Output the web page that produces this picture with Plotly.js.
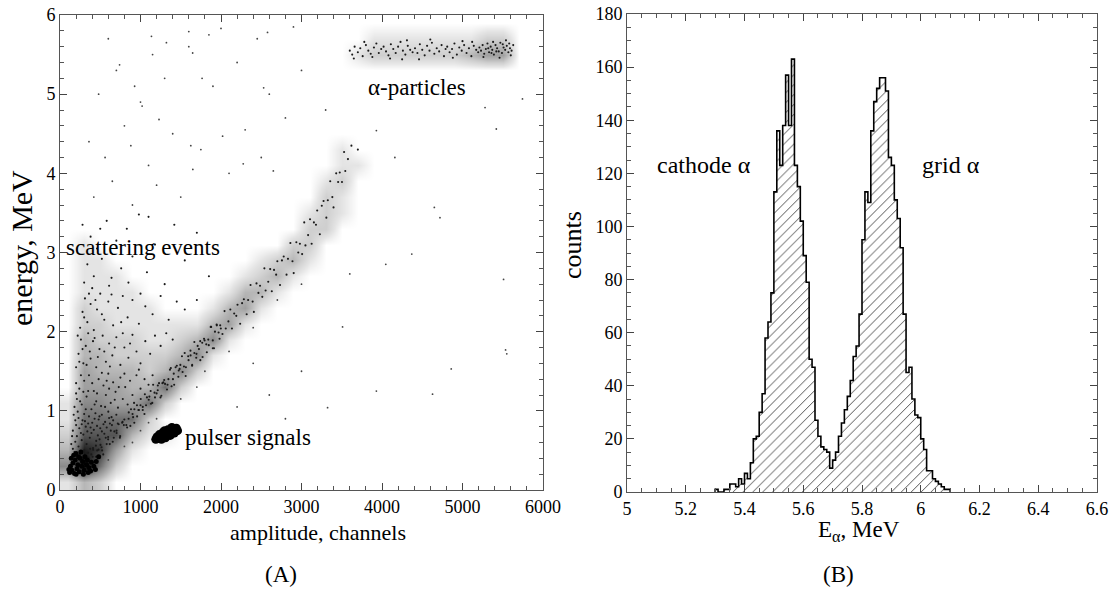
<!DOCTYPE html>
<html><head><meta charset="utf-8">
<script src="https://cdn.plot.ly/plotly-3.0.1.min.js"></script>
<style>html,body{margin:0;padding:0;background:#fff}</style>
</head><body><div id="chart" style="width:1113px;height:601px"></div>
<script>
// ---------- Panel A : energy vs amplitude (events) ----------
const bandPts = [
[300,0.39],[322,0.28],[357,0.41],[375,0.52],[405,0.42],[431,0.36],[446,0.56],[479,0.51],[503,0.57],[523,0.50],
[551,0.71],[580,0.58],[598,0.64],[631,0.75],[655,0.61],[675,0.74],[703,0.72],[729,0.83],[744,0.66],[777,0.86],
[799,0.89],[834,0.79],[852,0.90],[882,1.02],[908,0.92],[923,0.85],[956,1.07],[980,1.01],[1000,1.07],[1028,1.01],
[1054,1.21],[1069,1.07],[1102,1.14],[1126,1.25],[1146,1.10],[1174,1.23],[1200,1.22],[1215,1.32],[1248,1.17],[1272,1.35],
[1294,1.39],[1329,1.27],[1347,1.40],[1377,1.54],[1403,1.40],[1418,1.33],[1451,1.57],[1475,1.51],[1495,1.58],[1523,1.49],
[1549,1.73],[1564,1.55],[1597,1.64],[1621,1.76],[1641,1.57],[1669,1.73],[1695,1.72],[1710,1.82],[1743,1.64],[1767,1.86],
[1789,1.91],[1824,1.74],[1842,1.90],[1872,2.06],[1898,1.89],[1913,1.79],[1946,2.09],[1970,1.99],[1990,2.08],[2018,1.97],
[2044,2.26],[2059,2.04],[2092,2.13],[2116,2.28],[2136,2.04],[2164,2.23],[2190,2.20],[2205,2.34],[2238,2.10],[2262,2.36],
[2284,2.41],[2319,2.22],[2337,2.40],[2367,2.59],[2393,2.38],[2408,2.25],[2441,2.61],[2465,2.49],[2485,2.58],[2513,2.44],
[2539,2.80],[2554,2.52],[2587,2.63],[2611,2.79],[2631,2.51],[2659,2.78],[2685,2.72],[2700,2.89],[2733,2.59],[2757,2.90],
[2779,2.95],[2814,2.72],[2832,2.92],[2862,3.12],[2888,2.89],[2903,2.74],[2936,3.13],[2960,3.00],[2980,3.11],[3008,2.98],
[3034,3.38],[3049,3.09],[3082,3.22],[3106,3.42],[3126,3.11],[3154,3.38],[3180,3.35],[3195,3.53],[3228,3.23],[3252,3.59],
[3274,3.65],[3309,3.44],[3327,3.66],[3357,3.90],[3383,3.70],[3398,3.57],[3431,4.00],[3455,3.89],[3475,4.01],[3503,3.89],
[3529,4.27],[3544,4.03],[3577,4.18],[3620,4.35],[3700,4.30],
[312,0.31],[342,0.47],[362,0.30],[389,0.45],[412,0.51],[446,0.42],[462,0.50],[491,0.64],[516,0.54],[537,0.45],
[568,0.66],[598,0.67],[618,0.58],[645,0.82],[668,0.66],[702,0.75],[718,0.84],[747,0.68],[772,0.85],[793,0.82],
[824,0.82],[854,0.98],[874,0.81],[901,0.96],[924,1.02],[958,0.93],[974,1.01],[1003,1.15],[1028,1.05],[1049,0.96],
[1080,1.17],[1110,1.18],[1130,1.09],[1157,1.33],[1180,1.17],[1214,1.26],[1230,1.35],[1259,1.19],[1284,1.36],[1305,1.34],
[1336,1.33],[1366,1.52],[1386,1.31],[1413,1.47],[1436,1.55],[1470,1.43],[1486,1.53],[1515,1.69],[1540,1.56],[1561,1.44],
[1592,1.69],[1622,1.70],[1642,1.58],[1669,1.87],[1692,1.67],[1726,1.78],[1742,1.88],[1771,1.68],[1796,1.89],[1817,1.84],
[1848,1.83],[1878,2.06],[1898,1.79],[1925,2.00],[1948,2.08],[1982,1.91],[1998,2.04]
];
const cloudPts = [
[160,0.52],[190,0.61],[230,0.55],[270,0.63],[300,0.50],[330,0.58],[370,0.66],[410,0.53],[450,0.62],[180,0.48],[250,0.45],[350,0.47],[210,0.68],[290,0.70],[390,0.72],[470,0.69],[520,0.74],[140,0.58],
[160,0.75],[200,0.82],[240,0.78],[280,0.88],[320,0.80],[360,0.93],[400,0.85],[440,0.97],[480,0.89],[520,0.95],[560,0.86],[600,0.99],[640,0.92],[170,0.95],[220,0.99],[260,0.72],[300,0.96],[340,0.74],[380,0.79],[420,0.76],[460,0.81],[500,0.78],[540,0.83],[580,0.79],[620,0.84],[660,0.88],[700,0.95],[190,0.88],[230,0.91],[270,0.83],[310,0.87],[350,0.84],[430,0.90],[490,0.93],[610,0.91],[150,0.68],
[180,1.05],[210,1.15],[240,1.28],[270,1.08],[300,1.38],[330,1.18],[360,1.45],[390,1.02],[420,1.25],[450,1.12],[480,1.40],[510,1.06],[540,1.32],[570,1.20],[600,1.47],[630,1.10],[660,1.36],[690,1.24],[720,1.04],[750,1.42],[780,1.15],[810,1.30],[840,1.08],[870,1.38],[900,1.20],[950,1.45],[1000,1.28],[1050,1.40],[1100,1.33],[1150,1.45],[200,1.35],[260,1.45],[320,1.02],[350,1.25],[400,1.35],[460,1.22],[520,1.48],[560,1.05],[610,1.28],[680,1.14],[730,1.30],[200,1.22],[250,1.12],[290,1.24],[430,1.08],[580,1.38],[800,1.47],[920,1.10],
[200,1.55],[230,1.72],[260,1.90],[290,1.60],[320,1.82],[350,1.98],[380,1.66],[410,1.88],[450,1.55],[490,1.78],[530,1.95],[570,1.62],[610,1.85],[650,1.70],[700,1.93],[750,1.58],[800,1.80],[850,1.67],[900,1.96],[950,1.75],[1000,1.60],[1060,1.88],[1120,1.72],[1180,1.95],[1250,1.82],[1320,1.98],[1400,1.90],[240,1.62],[280,1.78],[330,1.58],[370,1.75],[430,1.92],[470,1.68],[550,1.75],[620,1.56],[680,1.80],[780,1.98],[870,1.85],[980,1.52],[220,1.95],
[250,2.05],[280,2.25],[310,2.42],[340,2.12],[380,2.35],[420,2.02],[460,2.28],[500,2.48],[550,2.15],[600,2.38],[660,2.08],[720,2.30],[780,2.45],[840,2.18],[900,2.40],[980,2.10],[1060,2.32],[1150,2.22],[1250,2.45],[1350,2.15],[1450,2.38],[1550,2.28],[300,2.18],[360,2.48],[440,2.40],[520,2.22],[640,2.47],[760,2.12],[1000,2.48],[1700,2.40],
[300,2.62],[340,2.85],[380,3.20],[420,2.70],[460,3.05],[520,2.92],[580,3.40],[640,2.68],[700,3.15],[760,2.80],[830,3.30],[900,2.95],[980,3.48],[1080,2.75],[1180,3.10],[1300,2.60],[1420,3.35],[1550,2.90],[1700,3.25],[1850,2.70],[400,2.55],[500,3.30],[610,2.58],[850,2.62],[280,3.35],[1100,3.45]
];
const sparsePts = [
[420,3.7],[650,3.9],[900,3.6],[1200,3.85],[1500,3.7],[360,4.4],[560,4.2],[800,4.6],[1100,4.1],[1400,4.5],[1750,4.3],[2100,4.0],[2500,4.2],[2800,4.7],
[480,5.0],[700,5.3],[1000,4.9],[1300,5.2],[1600,5.6],[1900,5.1],[2200,5.4],[2600,5.0],[3000,5.3],[3300,4.8],[600,5.7],[1150,5.5],[1850,5.75],[2450,5.7],[2900,5.85],[880,4.35],[1650,4.05],[2300,4.55],
[1136,5.73],[1322,5.65],[1648,5.52],[1600,5.79],[2000,5.83],[2578,5.78],[740,5.37],[927,5.1],[1765,5.2],[2530,5.08],[1020,4.85],[1230,4.68],[2276,4.12],[2650,4.03],[1625,4.35],[2020,4.47],
[3930,4.54],[4160,4.2],[5280,4.83],[5420,4.56],[5745,4.94],[4650,3.57],[4370,2.98],[5510,2.66],[3600,2.73],[4047,2.85],[4720,3.44],
[3324,1.04],[3510,2.06],[3930,1.25],[4628,1.21],[4860,1.53],[5535,1.77],[5550,1.72],[2600,1.2],[2200,1.05],[3000,1.5],[2800,0.9],[2400,1.6],
[1800,1.5],[2100,1.75],[1500,1.15],[1200,0.9],[1000,0.75],[800,0.55],[600,0.38],[2400,2.05],[2700,2.4],[3000,2.6],[1700,1.3],[900,0.6],[1100,0.85]
];
const alphaPts = [
[3600,5.55],[3630,5.50],[3660,5.60],[3700,5.53],[3730,5.58],[3760,5.48],[3800,5.62],[3830,5.55],[3860,5.51],[3900,5.59],[3930,5.64],[3960,5.52],[3990,5.57],[3650,5.45],[3780,5.66],[3880,5.47],
[4020,5.60],[4050,5.54],[4080,5.49],[4110,5.63],[4140,5.57],[4170,5.52],[4200,5.60],[4230,5.66],[4260,5.55],[4290,5.50],[4320,5.61],[4350,5.56],[4380,5.53],[4100,5.45],[4250,5.44],[4310,5.68],
[4410,5.58],[4440,5.52],[4470,5.63],[4500,5.56],[4530,5.49],[4560,5.61],[4590,5.55],[4620,5.65],[4650,5.51],[4680,5.58],[4710,5.54],[4740,5.62],[4770,5.48],[4790,5.57],[4460,5.44],[4600,5.69],
[4810,5.60],[4840,5.53],[4870,5.57],[4900,5.64],[4930,5.50],[4960,5.59],[4990,5.55],[5020,5.62],[5050,5.52],[5080,5.58],[5110,5.48],[5140,5.61],[5170,5.56],[5195,5.53],[4880,5.46],[5000,5.67],[5120,5.66],
[5210,5.59],[5230,5.55],[5250,5.62],[5270,5.51],[5290,5.57],[5310,5.64],[5330,5.53],[5350,5.60],[5370,5.56],[5390,5.50],[5410,5.62],[5430,5.58],[5450,5.54],[5470,5.65],[5490,5.52],[5510,5.59],[5530,5.56],[5550,5.61],[5570,5.53],[5590,5.58],[5610,5.55],[5630,5.62],[5260,5.47],[5380,5.66],[5460,5.46],[5540,5.68],[5600,5.49],[5500,5.63],[5320,5.58],[5420,5.54],[5580,5.64],[5360,5.52]
];
const cornerPts = [
[120,0.22],[150,0.25],[180,0.21],[210,0.27],[240,0.23],[270,0.30],[300,0.25],[330,0.32],[360,0.28],[390,0.35],[420,0.30],[130,0.30],[160,0.34],[190,0.38],[220,0.32],[250,0.40],[280,0.36],[310,0.42],[340,0.38],[140,0.40],[170,0.44],[200,0.46],[230,0.42],[260,0.48],[450,0.36],[480,0.42],[110,0.26],[380,0.24],[440,0.26],[350,0.22],[290,0.20],[200,0.20]
];
const pulserPts = [
[1190,0.64],[1215,0.65],[1240,0.66],[1270,0.68],[1300,0.70],[1330,0.72],[1360,0.74],[1390,0.76],[1420,0.77],[1445,0.78],
[1235,0.70],[1280,0.73],[1340,0.76],[1390,0.79],[1260,0.64],[1310,0.66],[1370,0.69],[1420,0.72],[1205,0.67],[1460,0.75],
[1250,0.69],[1350,0.73],[1320,0.68],[1285,0.66],[1400,0.74],[1300,0.75]
];

// Relative event density, cells of 200 channels x 0.2 MeV
// (row 0 = 0-0.2 MeV, column 0 = 0-200 channels)
const densCellAmp = 200, densCellE = 0.2;
const densityRows = [
[1,3,2,0,0,0,0,0,0,0,0,0,0,0,0,0,0,0,0,0,0,0,0,0,0,0,0,0,0,0],
[5,10,6,2,0,0,0,0,0,0,0,0,0,0,0,0,0,0,0,0,0,0,0,0,0,0,0,0,0,0],
[3,9,8,4,1,0,0,0,0,0,0,0,0,0,0,0,0,0,0,0,0,0,0,0,0,0,0,0,0,0],
[2,7,7,7,3,1,1,0,0,0,0,0,0,0,0,0,0,0,0,0,0,0,0,0,0,0,0,0,0,0],
[1,6,6,6,6,2,0,0,0,0,0,0,0,0,0,0,0,0,0,0,0,0,0,0,0,0,0,0,0,0],
[1,5,5,4,4,6,2,0,0,0,0,0,0,0,0,0,0,0,0,0,0,0,0,0,0,0,0,0,0,0],
[0,4,4,4,3,3,6,2,0,0,0,0,0,0,0,0,0,0,0,0,0,0,0,0,0,0,0,0,0,0],
[0,4,3,3,3,2,3,5,2,0,0,0,0,0,0,0,0,0,0,0,0,0,0,0,0,0,0,0,0,0],
[0,3,3,2,2,2,2,3,5,1,0,0,0,0,0,0,0,0,0,0,0,0,0,0,0,0,0,0,0,0],
[0,3,2,2,2,1,1,2,3,5,1,0,0,0,0,0,0,0,0,0,0,0,0,0,0,0,0,0,0,0],
[0,2,2,1,1,1,1,1,1,3,4,1,0,0,0,0,0,0,0,0,0,0,0,0,0,0,0,0,0,0],
[0,2,1,1,1,1,0,0,0,1,3,4,1,0,0,0,0,0,0,0,0,0,0,0,0,0,0,0,0,0],
[0,1,1,1,1,0,0,0,0,0,1,3,3,1,0,0,0,0,0,0,0,0,0,0,0,0,0,0,0,0],
[0,1,1,1,0,0,0,0,0,0,0,1,2,3,1,0,0,0,0,0,0,0,0,0,0,0,0,0,0,0],
[0,1,1,0,0,0,0,0,0,0,0,0,1,2,3,1,0,0,0,0,0,0,0,0,0,0,0,0,0,0],
[0,1,0,0,0,0,0,0,0,0,0,0,0,0,2,2,0,0,0,0,0,0,0,0,0,0,0,0,0,0],
[0,0,0,0,0,0,0,0,0,0,0,0,0,0,0,2,2,0,0,0,0,0,0,0,0,0,0,0,0,0],
[0,0,0,0,0,0,0,0,0,0,0,0,0,0,0,1,2,1,0,0,0,0,0,0,0,0,0,0,0,0],
[0,0,0,0,0,0,0,0,0,0,0,0,0,0,0,0,2,1,0,0,0,0,0,0,0,0,0,0,0,0],
[0,0,0,0,0,0,0,0,0,0,0,0,0,0,0,0,1,2,0,0,0,0,0,0,0,0,0,0,0,0],
[0,0,0,0,0,0,0,0,0,0,0,0,0,0,0,0,0,1,1,0,0,0,0,0,0,0,0,0,0,0],
[0,0,0,0,0,0,0,0,0,0,0,0,0,0,0,0,0,1,0,0,0,0,0,0,0,0,0,0,0,0],
[0,0,0,0,0,0,0,0,0,0,0,0,0,0,0,0,0,0,0,0,0,0,0,0,0,0,0,0,0,0],
[0,0,0,0,0,0,0,0,0,0,0,0,0,0,0,0,0,0,0,0,0,0,0,0,0,0,0,0,0,0],
[0,0,0,0,0,0,0,0,0,0,0,0,0,0,0,0,0,0,0,0,0,0,0,0,0,0,0,0,0,0],
[0,0,0,0,0,0,0,0,0,0,0,0,0,0,0,0,0,0,0,0,0,0,0,0,0,0,0,0,0,0],
[0,0,0,0,0,0,0,0,0,0,0,0,0,0,0,0,0,0,0,0,0,0,0,0,0,0,0,0,0,0],
[0,0,0,0,0,0,0,0,0,0,0,0,0,0,0,0,0,0,1,2,2,2,2,2,2,3,4,4,0,0],
[0,0,0,0,0,0,0,0,0,0,0,0,0,0,0,0,0,0,0,1,1,1,1,1,1,1,2,2,0,0],
[0,0,0,0,0,0,0,0,0,0,0,0,0,0,0,0,0,0,0,0,0,0,0,0,0,0,0,0,0,0]
];

// ---------- Panel B : alpha energy histogram ----------
const binStart = 5.30;   // MeV, lower edge of first bin
const binWidth = 0.01;   // MeV
const counts = [1,0,0,1,1,3,3,2,5,3,7,5,11,20,21,30,37,58,64,75,113,136,123,138,157,138,163,123,115,102,89,79,50,47,27,21,17,16,15,9,12,15,21,26,31,36,42,51,55,67,95,113,109,136,147,152,156,156,151,126,123,110,103,92,67,45,47,35,29,28,20,16,8,8,5,4,3,2,1,1];

const xs = p => p.map(d => d[0]);
const ys = p => p.map(d => d[1]);

const densX = densityRows[0].map((_, c) => (c + 0.5) * densCellAmp);
const densY = densityRows.map((_, r) => +((r + 0.5) * densCellE).toFixed(2));

const edges = counts.map((c, i) => +(binStart + i * binWidth).toFixed(3));
const histX = [binStart].concat(edges, [+(binStart + counts.length * binWidth).toFixed(3)]);
const histY = [0].concat(counts, [0]);

const serif = "Liberation Serif, Times New Roman, Times, serif";
const dotMarker = {size: 2.1, color: '#1a1a1a', line: {width: 0}};

const traces = [
  {type:'heatmap', x: densX, y: densY, z: densityRows, zmin:0, zmax:10, zsmooth:'best', showscale:false,
   colorscale:[[0,'#ffffff'],[0.1,'#e4e4e4'],[0.2,'#cfcfcf'],[0.3,'#b6b6b6'],[0.5,'#8a8a8a'],[0.7,'#555555'],[0.9,'#1e1e1e'],[1,'#000000']],
   xaxis:'x', yaxis:'y', hoverinfo:'skip'},
  {type:'scatter', mode:'markers', x: xs(cloudPts), y: ys(cloudPts), marker: dotMarker, xaxis:'x', yaxis:'y', hoverinfo:'skip'},
  {type:'scatter', mode:'markers', x: xs(bandPts), y: ys(bandPts), marker: dotMarker, xaxis:'x', yaxis:'y', hoverinfo:'skip'},
  {type:'scatter', mode:'markers', x: xs(sparsePts), y: ys(sparsePts), marker: {size: 1.8, color: '#444', line:{width:0}}, xaxis:'x', yaxis:'y', hoverinfo:'skip'},
  {type:'scatter', mode:'markers', x: xs(alphaPts), y: ys(alphaPts), marker: dotMarker, xaxis:'x', yaxis:'y', hoverinfo:'skip'},
  {type:'scatter', mode:'markers', x: xs(cornerPts), y: ys(cornerPts), marker: {size: 5, color: '#000', line:{width:0}}, xaxis:'x', yaxis:'y', hoverinfo:'skip'},
  {type:'scatter', mode:'markers', x: xs(pulserPts), y: ys(pulserPts), marker: {size: 9, color: '#000', line:{width:0}}, xaxis:'x', yaxis:'y', hoverinfo:'skip'},
  {type:'scatter', mode:'lines', x: histX, y: histY, line: {shape:'hv', color:'#000', width:1.6},
   fill:'tozeroy', fillcolor:'rgba(0,0,0,0)',
   fillpattern: {shape:'/', fgcolor:'#444', bgcolor:'#fff', size:7, solidity:0.13},
   xaxis:'x2', yaxis:'y2', hoverinfo:'skip'}
];

const axBase = {
  showline:true, linecolor:'#555', linewidth:1, mirror:'allticks',
  ticks:'inside', ticklen:7, tickwidth:1, tickcolor:'#444',
  showgrid:false, zeroline:false,
  tickfont:{family:serif, size:18, color:'#000'},
  minor:{ticks:'inside', ticklen:4, tickcolor:'#555', showgrid:false}
};

const layout = {
  width:1113, height:601,
  margin:{l:0, r:0, t:0, b:0},
  paper_bgcolor:'#fff', plot_bgcolor:'#fff',
  showlegend:false,
  font:{family:serif, color:'#000'},
  xaxis: Object.assign({}, axBase, {domain:[60/1113, 543/1113], range:[0,6000], dtick:1000, tick0:0,
    minor:Object.assign({}, axBase.minor, {dtick:200}), anchor:'y'}),
  yaxis: Object.assign({}, axBase, {domain:[(601-490)/601, (601-15)/601], range:[0,6], dtick:1, tick0:0,
    minor:Object.assign({}, axBase.minor, {dtick:0.2}), anchor:'x'}),
  xaxis2: Object.assign({}, axBase, {domain:[627/1113, 1097/1113], range:[5,6.6], dtick:0.2, tick0:5,
    minor:Object.assign({}, axBase.minor, {dtick:0.05}), anchor:'y2'}),
  yaxis2: Object.assign({}, axBase, {domain:[(601-492)/601, (601-14)/601], range:[0,180], dtick:20, tick0:0,
    minor:Object.assign({}, axBase.minor, {dtick:5}), anchor:'x2'}),
  annotations: [
    {xref:'x', yref:'y', x:3800, y:5.08, text:'α-particles', showarrow:false, xanchor:'left', yanchor:'middle', font:{family:serif, size:23}},
    {xref:'x', yref:'y', x:50, y:3.06, text:'scattering events', showarrow:false, xanchor:'left', yanchor:'middle', font:{family:serif, size:23}},
    {xref:'x', yref:'y', x:1530, y:0.66, text:'pulser signals', showarrow:false, xanchor:'left', yanchor:'middle', font:{family:serif, size:23}},
    {xref:'x2', yref:'y2', x:5.095, y:123, text:'cathode α', showarrow:false, xanchor:'left', yanchor:'middle', font:{family:serif, size:24}},
    {xref:'x2', yref:'y2', x:5.997, y:123, text:'grid α', showarrow:false, xanchor:'left', yanchor:'middle', font:{family:serif, size:24}},
    {xref:'x', yref:'paper', x:3200, y:(601-532)/601, text:'amplitude, channels', showarrow:false, xanchor:'center', yanchor:'middle', font:{family:serif, size:22}},
    {xref:'paper', yref:'paper', x:22/1113, y:(601-248)/601, text:'energy, MeV', textangle:-90, showarrow:false, xanchor:'center', yanchor:'middle', font:{family:serif, size:30}},
    {xref:'paper', yref:'paper', x:573/1113, y:(601-245)/601, text:'counts', textangle:-90, showarrow:false, xanchor:'center', yanchor:'middle', font:{family:serif, size:26}},
    {xref:'x2', yref:'paper', x:5.79, y:(601-531)/601, text:'E<sub>α</sub>, MeV', showarrow:false, xanchor:'center', yanchor:'middle', font:{family:serif, size:23}},
    {xref:'x', yref:'paper', x:2750, y:(601-574)/601, text:'(A)', showarrow:false, xanchor:'center', yanchor:'middle', font:{family:serif, size:23}},
    {xref:'x2', yref:'paper', x:5.72, y:(601-574)/601, text:'(B)', showarrow:false, xanchor:'center', yanchor:'middle', font:{family:serif, size:23}}
  ]
};

Plotly.newPlot('chart', traces, layout, {staticPlot:true, displayModeBar:false});
</script>
</body></html>
